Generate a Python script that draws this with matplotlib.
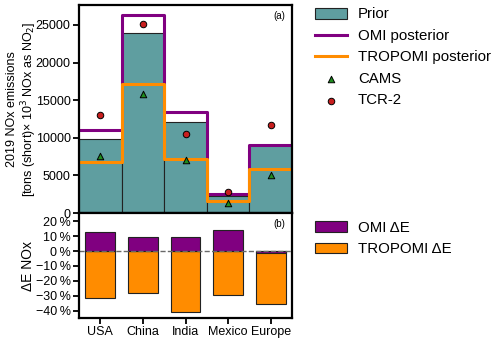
import numpy as np
import matplotlib
matplotlib.use('Agg')
import matplotlib.pyplot as plt
from matplotlib.ticker import FuncFormatter

plt.rcParams['font.family'] = ['Liberation Sans', 'DejaVu Sans']

# data (10^3 short tons NOx as NO2, 2019)
regions = ['USA', 'China', 'India', 'Mexico', 'Europe']
prior = [9800, 23900, 12100, 2250, 9100]
omi_post = [11100, 26320, 13380, 2570, 9020]
tropomi_post = [6770, 17180, 7200, 1600, 5880]
cams = [7650, 15860, 7080, 1290, 5130]
tcr2 = [13080, 25130, 10520, 2840, 11710]

# relative change vs prior (%)
omi_de = [12.5, 9.6, 9.2, 14.3, -1.1]
tropomi_de = [-31.3, -28.2, -41.2, -29.3, -35.8]

x = np.arange(len(regions))
edges = np.append(x - 0.5, x[-1] + 0.5)

fig = plt.figure(figsize=(5, 3.41), dpi=100)
ax1 = fig.add_axes([0.158, 0.375, 0.426, 0.61])
ax2 = fig.add_axes([0.158, 0.0674, 0.426, 0.3076])

# top panel
h_prior = ax1.bar(x, prior, width=1, color='#5F9EA0', edgecolor='#222222', linewidth=0.8)
h_omi, = ax1.step(edges, omi_post + [omi_post[-1]], where='post', color='#800080', lw=2.2)
h_tro, = ax1.step(edges, tropomi_post + [tropomi_post[-1]], where='post', color='#FF8C00', lw=2.2)
h_cams = ax1.scatter(x, cams, marker='^', s=22, color='#1E8C1E', edgecolor='black', linewidth=0.7, zorder=5)
h_tcr = ax1.scatter(x, tcr2, marker='o', s=22, color='#C81E1E', edgecolor='black', linewidth=0.7, zorder=5)
ax1.set_xlim(-0.5, 4.5)
ax1.set_ylim(0, 1.05 * max(omi_post))
ax1.set_yticks([0, 5000, 10000, 15000, 20000, 25000])
ax1.set_xticks([])
ax1.set_ylabel('2019 NOx emissions\n[tons (short)× 10$^3$ NOx as NO$_2$]', fontsize=9, linespacing=1.1)
ax1.yaxis.set_label_coords(-0.19, 0.5)
ax1.text(0.97, 0.97, '(a)', transform=ax1.transAxes, ha='right', va='top', fontsize=7)
ax1.legend([h_prior, h_omi, h_tro, h_cams, h_tcr],
           ['Prior', 'OMI posterior', 'TROPOMI posterior', 'CAMS', 'TCR-2'],
           loc='upper left', bbox_to_anchor=(0.614, 1.0), bbox_transform=fig.transFigure,
           frameon=False, fontsize=10.8, handlelength=2.15, handletextpad=0.75,
           labelspacing=0.5, borderpad=0)

# bottom panel
b_tro = ax2.bar(x, tropomi_de, width=0.7, color='#FF8C00', edgecolor='#222222', linewidth=0.8)
b_omi = ax2.bar(x, omi_de, width=0.7, color='#800080', edgecolor='#222222', linewidth=0.8)
ax2.axhline(0, color='dimgray', ls='--', lw=1)
ax2.set_xlim(-0.5, 4.5)
ax2.set_ylim(-45, 25.5)
ax2.set_yticks([-40, -30, -20, -10, 0, 10, 20])
ax2.yaxis.set_major_formatter(FuncFormatter(lambda v, p: '%d\u2009%%' % v if v >= 0 else '\u2212%d\u2009%%' % -v))
ax2.set_xticks(x)
ax2.set_xticklabels(regions, fontsize=9)
ax2.set_ylabel('ΔE NOx', fontsize=10)
ax2.yaxis.set_label_coords(-0.207, 0.5)
ax2.text(0.97, 0.94, '(b)', transform=ax2.transAxes, ha='right', va='top', fontsize=7)
ax2.legend([b_omi, b_tro], ['OMI ΔE', 'TROPOMI ΔE'], loc='upper left',
           bbox_to_anchor=(0.614, 0.374), bbox_transform=fig.transFigure,
           frameon=False, fontsize=10.8, handlelength=2.15, handletextpad=0.75,
           labelspacing=0.5, borderpad=0)

for ax in (ax1, ax2):
    for s in ax.spines.values():
        s.set_linewidth(1.6)
    ax.tick_params(direction='out', length=4, width=1.3, labelsize=9, pad=2)

fig.savefig('out.png', dpi=100)
